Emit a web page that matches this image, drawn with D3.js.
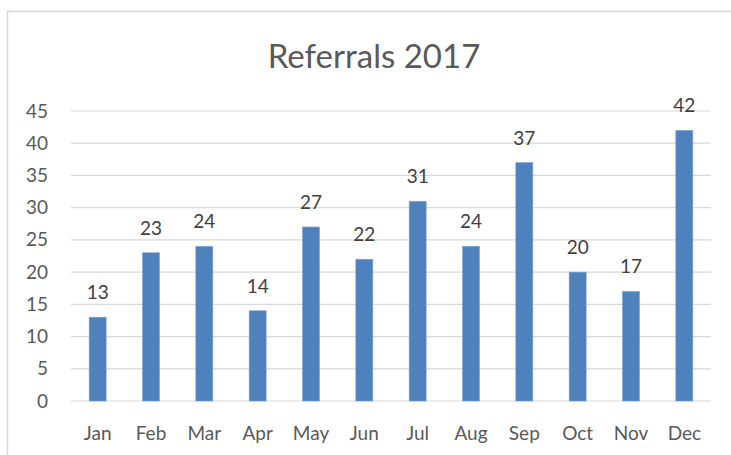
<!DOCTYPE html>
<html>
<head>
<meta charset="utf-8">
<script src="https://cdnjs.cloudflare.com/ajax/libs/d3/7.8.5/d3.min.js"></script>
<style>
  body { margin: 0; background: #fff; }
  text { font-family: Lato, "Open Sans", sans-serif; }
</style>
</head>
<body>
<div id="chart"></div>
<script>
var months = ['Jan', 'Feb', 'Mar', 'Apr', 'May', 'Jun', 'Jul', 'Aug', 'Sep', 'Oct', 'Nov', 'Dec']
var referrals = [13, 23, 24, 14, 27, 22, 31, 24, 37, 20, 17, 42]
var yTicks = [0, 5, 10, 15, 20, 25, 30, 35, 40, 45]

var w = 731
var h = 455
var plotL = 71, plotR = 711, plotT = 111, plotB = 401

var svg = d3.select('#chart').append('svg')
  .attr('width', w)
  .attr('height', h)

// chart frame
svg.append('rect')
  .attr('x', 7.5).attr('y', 11.5)
  .attr('width', w + 10).attr('height', h + 10)
  .attr('fill', 'none')
  .attr('stroke', '#d9d9d9')
  .attr('stroke-width', 1.5)

svg.append('text')
  .attr('x', 374).attr('y', 68)
  .attr('text-anchor', 'middle')
  .attr('fill', '#595959')
  .attr('font-size', 33)
  .text('Referrals 2017')

var x = d3.scaleBand().domain(months).range([plotL, plotR])
var y = d3.scaleLinear().domain([0, 45]).range([plotB, plotT])

// gridlines
svg.append('g')
  .selectAll('line')
  .data(yTicks)
  .join('line')
  .attr('x1', plotL).attr('x2', plotR)
  .attr('y1', function(d) { return y(d) })
  .attr('y2', function(d) { return y(d) })
  .attr('stroke', '#d9d9d9')
  .attr('stroke-width', 1.2)

var yAxis = svg.append('g')
  .attr('transform', 'translate(' + (plotL - 19) + ',0)')
  .call(d3.axisLeft(y).tickValues(yTicks).tickSize(0).tickPadding(4))
yAxis.select('.domain').remove()
yAxis.selectAll('text')
  .attr('fill', '#595959')
  .attr('font-size', 19)
  .attr('font-family', 'Lato, "Open Sans", sans-serif')

var xAxis = svg.append('g')
  .attr('transform', 'translate(0,' + plotB + ')')
  .call(d3.axisBottom(x).tickSize(0).tickPadding(26))
xAxis.select('.domain').remove()
xAxis.selectAll('text')
  .attr('fill', '#595959')
  .attr('font-size', 19)
  .attr('font-family', 'Lato, "Open Sans", sans-serif')

var barW = 17
var data = months.map(function(m, i) { return { m: m, v: referrals[i] } })

svg.append('g')
  .selectAll('rect')
  .data(data)
  .join('rect')
  .attr('x', function(d) { return x(d.m) + x.bandwidth() / 2 - barW / 2 })
  .attr('y', function(d) { return y(d.v) })
  .attr('width', barW)
  .attr('height', function(d) { return y(0) - y(d.v) })
  .attr('fill', '#4f81bd')
  .attr('stroke', '#7ea3d1')
  .attr('stroke-width', 0.6)

svg.append('g')
  .selectAll('text')
  .data(data)
  .join('text')
  .attr('x', function(d) { return x(d.m) + x.bandwidth() / 2 })
  .attr('y', function(d) { return y(d.v) - 18 })
  .attr('text-anchor', 'middle')
  .attr('fill', '#404040')
  .attr('font-size', 19)
  .text(function(d) { return d.v })
</script>
</body>
</html>
